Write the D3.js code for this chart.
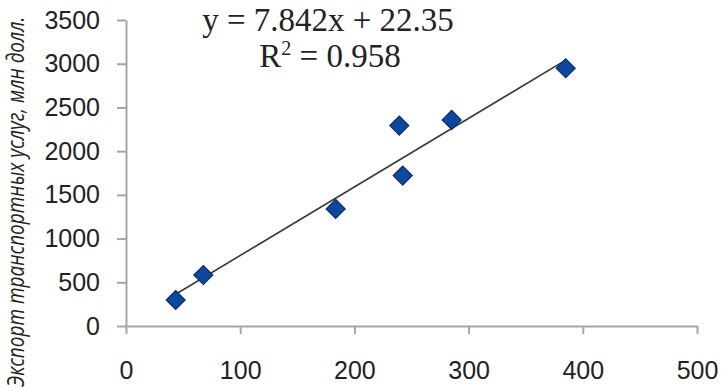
<!DOCTYPE html>
<html>
<head>
<meta charset="utf-8">
<script src="https://cdn.jsdelivr.net/npm/d3@7"></script>
<style>
  body { margin: 0; background: #fff; }
  .tick text { font-family: "Liberation Sans", Arial, sans-serif; font-size: 25px; fill: #222; }
  .axis path, .axis line { stroke: #a6a6a6; stroke-width: 2; }
  .eq { font-family: "Liberation Serif", "Times New Roman", serif; font-size: 33px; fill: #222; }
  .ytitle { font-family: "Open Sans", sans-serif; font-style: italic; font-size: 19px; fill: #222; }
</style>
</head>
<body>
<div id="chart"></div>
<script>
// export of transport services vs. x
const xValues = [43.5, 67.7, 183.6, 239.3, 242.3, 285.2, 385];
const yValues = [297, 583, 1339, 2292, 1720, 2357, 2948];
const xTicks = [0, 100, 200, 300, 400, 500];
const yTicks = [0, 500, 1000, 1500, 2000, 2500, 3000, 3500];
const slope = 7.842;
const intercept = 22.35;
const rSquared = 0.958;
const yTitle = "Экспорт транспортных услуг, млн долл.";

const w = 721;
const h = 390;

const xScale = d3.scaleLinear().domain([0, 500]).range([126, 697]);
const yScale = d3.scaleLinear().domain([0, 3500]).range([326, 20]);

const svg = d3.select("#chart")
  .append("svg")
  .attr("width", w)
  .attr("height", h);

const xAxis = d3.axisBottom(xScale)
  .tickValues(xTicks)
  .tickSizeInner(8)
  .tickSizeOuter(0)
  .tickPadding(27)
  .tickFormat(d3.format("d"));

svg.append("g")
  .attr("class", "axis")
  .attr("transform", "translate(0," + yScale(0) + ")")
  .call(xAxis);

const yAxis = d3.axisLeft(yScale)
  .tickValues(yTicks)
  .tickSizeInner(9)
  .tickSizeOuter(0)
  .tickPadding(17)
  .tickFormat(d3.format("d"));

svg.append("g")
  .attr("class", "axis")
  .attr("transform", "translate(" + xScale(0) + ",0)")
  .call(yAxis);

// trend line over the data range
const x0 = d3.min(xValues), x1 = d3.max(xValues);
svg.append("line")
  .attr("x1", xScale(x0))
  .attr("y1", yScale(slope * x0 + intercept))
  .attr("x2", xScale(x1))
  .attr("y2", yScale(slope * x1 + intercept))
  .attr("stroke", "#3a3a3a")
  .attr("stroke-width", 1.6);

const points = xValues.map((x, i) => ({ x: x, y: yValues[i] }));

// square diamonds (square turned 45 degrees)
svg.selectAll("path.pt")
  .data(points)
  .enter()
  .append("path")
  .attr("class", "pt")
  .attr("d", d3.symbol().type(d3.symbolSquare).size(180))
  .attr("transform", d => "translate(" + xScale(d.x) + "," + yScale(d.y) + ") rotate(45)")
  .attr("fill", "#0d479f")
  .attr("stroke", "#072d6e")
  .attr("stroke-width", 1.2);

// equation
svg.append("text")
  .attr("class", "eq")
  .attr("x", 328)
  .attr("y", 31)
  .attr("text-anchor", "middle")
  .text("y = " + slope + "x + " + intercept);

const r2 = svg.append("text")
  .attr("class", "eq")
  .attr("x", 330)
  .attr("y", 67)
  .attr("text-anchor", "middle");
r2.append("tspan").text("R");
r2.append("tspan").attr("dy", -12).attr("font-size", "20px").text("2");
r2.append("tspan").attr("dy", 12).text(" = " + rSquared);

// y axis title, rotated
svg.append("text")
  .attr("class", "ytitle")
  .attr("transform", "translate(24," + 387 + ") rotate(-90) scale(1,1.25)")
  .attr("text-anchor", "start")
  .text(yTitle);
</script>
</body>
</html>
